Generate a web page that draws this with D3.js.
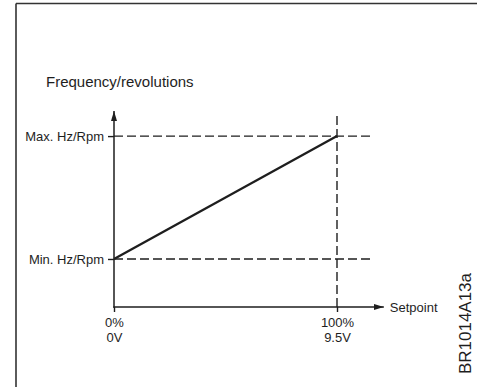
<!DOCTYPE html>
<html>
<head>
<meta charset="utf-8">
<script src="https://cdn.jsdelivr.net/npm/d3@7"></script>
<style>
  html, body { margin: 0; padding: 0; background: #fff; }
  svg { display: block; font-family: "Liberation Sans", Arial, sans-serif; }
</style>
</head>
<body>
<svg id="chart" width="477" height="387"></svg>
<script>
// ---- data ----
const setpointPct = [0, 100];
const setpointPctLabels = ["0%", "100%"];
const setpointVoltLabels = ["0V", "9.5V"];
const freqLevels = [0.245, 0.872];           // normalized frequency (Min, Max)
const freqLabels = ["Min. Hz/Rpm", "Max. Hz/Rpm"];
const titleText = "Frequency/revolutions";
const xAxisTitle = "Setpoint";
const figureCode = "BR1014A13a";

// ---- setup ----
const svg = d3.select("#chart");
const ink = "#1e1e1e";

const x = d3.scaleLinear().domain([0, 100]).range([114, 337]);
const y = d3.scaleLinear().domain([0, 1]).range([307, 111]);

// frame (top and left border)
svg.append("line").attr("x1", 16).attr("y1", 3.5).attr("x2", 477).attr("y2", 3.5)
  .attr("stroke", "#333").attr("stroke-width", 1.6);
svg.append("line").attr("x1", 16).attr("y1", 3.5).attr("x2", 16).attr("y2", 387)
  .attr("stroke", "#333").attr("stroke-width", 1.6);

// title
svg.append("text").attr("x", 46).attr("y", 87)
  .attr("font-size", 15).attr("fill", ink).text(titleText);

// dashed guide lines
freqLevels.forEach(v => {
  svg.append("line")
    .attr("x1", x(0)).attr("x2", x(100) + 35)
    .attr("y1", y(v)).attr("y2", y(v))
    .attr("stroke", ink).attr("stroke-width", 1.4)
    .attr("stroke-dasharray", "9,4");
});
svg.append("line")
  .attr("x1", x(100)).attr("x2", x(100))
  .attr("y1", y(0)).attr("y2", y(1) + 2)
  .attr("stroke", ink).attr("stroke-width", 1.4)
  .attr("stroke-dasharray", "9,4");

// axes via d3
const yAxis = d3.axisLeft(y).tickValues(freqLevels)
  .tickFormat((d, i) => freqLabels[i]).tickSize(6).tickPadding(4);
const gy = svg.append("g").attr("transform", `translate(${x(0)},0)`).call(yAxis);
gy.select(".domain").remove();
gy.selectAll("line").attr("stroke", ink).attr("stroke-width", 1.4);
gy.selectAll("text").attr("font-size", 13).attr("fill", ink)
  .attr("font-family", "Liberation Sans, Arial, sans-serif");

const xAxis = d3.axisBottom(x).tickValues(setpointPct)
  .tickFormat((d, i) => setpointPctLabels[i]).tickSize(5).tickPadding(6);
const gx = svg.append("g").attr("transform", `translate(0,${y(0)})`).call(xAxis);
gx.select(".domain").remove();
gx.selectAll("line").attr("stroke", ink).attr("stroke-width", 1.4);
gx.selectAll("text").attr("font-size", 13).attr("fill", ink)
  .attr("font-family", "Liberation Sans, Arial, sans-serif")
  .each(function(d, i) {
    const t = d3.select(this);
    t.text(null);
    t.append("tspan").attr("x", 0).attr("dy", "0.71em").text(setpointPctLabels[i]);
    t.append("tspan").attr("x", 0).attr("dy", "1.15em").text(setpointVoltLabels[i]);
  })
  .attr("dy", null);

// axis lines with arrows
const defs = svg.append("defs");
defs.append("marker").attr("id", "arrow")
  .attr("viewBox", "0 0 10 6").attr("refX", 10).attr("refY", 3)
  .attr("markerWidth", 10).attr("markerHeight", 6)
  .attr("markerUnits", "userSpaceOnUse").attr("orient", "auto")
  .append("path").attr("d", "M0,0 L10,3 L0,6 Z").attr("fill", ink);

svg.append("line")
  .attr("x1", x(0)).attr("y1", y(0) + 0.7).attr("x2", x(0)).attr("y2", y(1))
  .attr("stroke", ink).attr("stroke-width", 1.5).attr("marker-end", "url(#arrow)");
svg.append("line")
  .attr("x1", x(0) - 0.7).attr("y1", y(0)).attr("x2", x(121)).attr("y2", y(0))
  .attr("stroke", ink).attr("stroke-width", 1.5).attr("marker-end", "url(#arrow)");

svg.append("text").attr("x", x(121) + 6).attr("y", y(0) + 4.5)
  .attr("font-size", 13).attr("fill", ink).text(xAxisTitle);

// data line
const line = d3.line().x((d, i) => x(setpointPct[i])).y(d => y(d));
svg.append("path").datum(freqLevels).attr("d", line)
  .attr("fill", "none").attr("stroke", ink).attr("stroke-width", 2.3);

// figure code (rotated)
svg.append("text")
  .attr("transform", "translate(471,374) rotate(-90)")
  .attr("font-size", 17).attr("fill", ink)
  .attr("textLength", 101).attr("lengthAdjust", "spacingAndGlyphs")
  .text(figureCode);
</script>
</body>
</html>
